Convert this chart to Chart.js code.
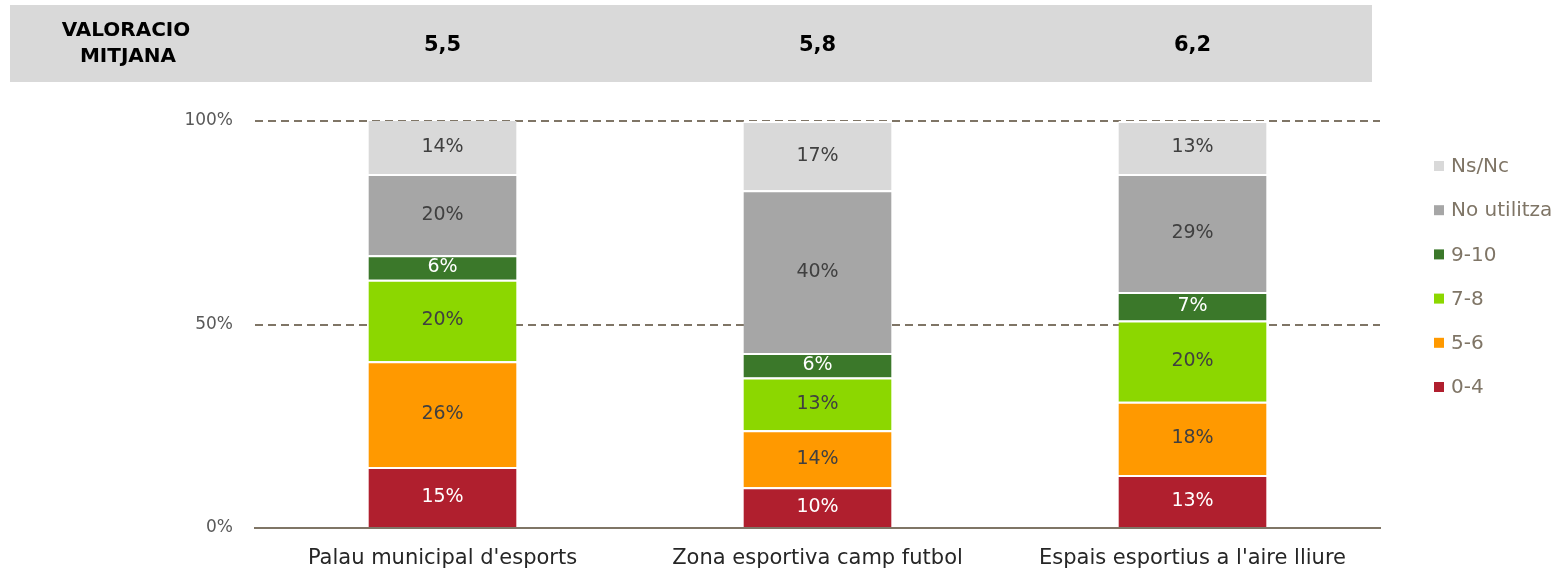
<!DOCTYPE html>
<html>
<head>
<meta charset="utf-8">
<script src="https://cdn.jsdelivr.net/npm/chart.js@4"></script>
<style>
  html, body { margin: 0; padding: 0; background: #fff; }
  #wrap { width: 1565px; height: 571px; position: relative; }
</style>
</head>
<body>
<div id="wrap"><canvas id="chart"></canvas></div>
<script>
const categories = ["Palau municipal d'esports", "Zona esportiva camp futbol", "Espais esportius a l'aire lliure"];
const averageScores = ["5,5", "5,8", "6,2"];

const score0to4 = [15, 10, 13];
const score5to6 = [26, 14, 18];
const score7to8 = [20, 13, 20];
const score9to10 = [6, 6, 7];
const noUse = [20, 40, 29];
const noAnswer = [14, 17, 13];

const yTicks = [0, 50, 100];

const FONT = "'DejaVu Sans', sans-serif";
const AXIS_COLOR = "#7f7566";

const series = [
  { label: "0-4", data: score0to4, color: "#b01f2e", text: "#ffffff" },
  { label: "5-6", data: score5to6, color: "#ff9900", text: "#404040" },
  { label: "7-8", data: score7to8, color: "#8cd700", text: "#404040" },
  { label: "9-10", data: score9to10, color: "#3b782a", text: "#ffffff" },
  { label: "No utilitza", data: noUse, color: "#a6a6a6", text: "#404040" },
  { label: "Ns/Nc", data: noAnswer, color: "#d9d9d9", text: "#404040" },
];

// grey band with the mean scores above each bar
const headerBand = {
  id: "headerBand",
  beforeDraw(chart) {
    const { ctx } = chart;
    const x = chart.scales.x;
    ctx.save();
    ctx.fillStyle = "#d9d9d9";
    ctx.fillRect(10, 5, 1362, 77);
    ctx.fillStyle = "#000";
    ctx.textAlign = "center";
    ctx.textBaseline = "middle";
    ctx.font = "bold 20px " + FONT;
    ctx.fillText("VALORACIO", 126, 31);
    ctx.fillText("MITJANA", 128, 57);
    ctx.font = "bold 21px " + FONT;
    averageScores.forEach((s, i) => {
      ctx.fillText(s, x.getPixelForValue(i), 46);
    });
    ctx.restore();
  },
};

// percentage inside each segment
const segmentLabels = {
  id: "segmentLabels",
  afterDatasetsDraw(chart) {
    const { ctx } = chart;
    ctx.save();
    ctx.font = "19px " + FONT;
    ctx.textAlign = "center";
    ctx.textBaseline = "middle";
    chart.data.datasets.forEach((ds, di) => {
      const meta = chart.getDatasetMeta(di);
      meta.data.forEach((bar, i) => {
        const { x, y, base } = bar.getProps(["x", "y", "base"], true);
        const top = Math.max(y, chart.chartArea.top);
        ctx.fillStyle = series[di].text;
        ctx.fillText(ds.data[i] + "%", x, (top + base) / 2);
      });
    });
    ctx.restore();
  },
};

// legend on the right, top item is the last series
const sideLegend = {
  id: "sideLegend",
  afterDraw(chart) {
    const { ctx } = chart;
    ctx.save();
    ctx.font = "20px " + FONT;
    ctx.textBaseline = "middle";
    const items = chart.data.datasets.slice().reverse();
    items.forEach((ds, i) => {
      const cy = 166 + i * 44.2;
      ctx.fillStyle = ds.backgroundColor;
      ctx.fillRect(1434, cy - 5, 10, 10);
      ctx.fillStyle = AXIS_COLOR;
      ctx.fillText(ds.label, 1451, cy + 1);
    });
    ctx.restore();
  },
};

new Chart(document.getElementById("chart"), {
  type: "bar",
  data: {
    labels: categories,
    datasets: series.map((s) => ({
      label: s.label,
      data: s.data,
      backgroundColor: s.color,
      borderColor: "#ffffff",
      borderWidth: { top: 2, bottom: 0, left: 0, right: 0 },
      borderSkipped: "start",
      barPercentage: 0.395,
      categoryPercentage: 1,
    })),
  },
  options: {
    responsive: true,
    maintainAspectRatio: false,
    animation: false,
    layout: { padding: { top: 121, right: 185, left: 0, bottom: 0 } },
    plugins: {
      legend: { display: false },
      tooltip: { enabled: false },
    },
    scales: {
      x: {
        stacked: true,
        grid: { display: false, drawTicks: false },
        border: { color: AXIS_COLOR, width: 2 },
        ticks: { color: "#262626", font: { family: FONT, size: 21 }, padding: 18 },
        afterFit(scale) { scale.height = 43; },
      },
      y: {
        stacked: true,
        min: 0,
        max: 100,
        afterBuildTicks(scale) {
          scale.ticks = yTicks.map((v) => ({ value: v }));
        },
        grid: {
          drawTicks: false,
          color: (c) => (c.tick && c.tick.value === 0 ? "transparent" : AXIS_COLOR),
          lineWidth: 2,
        },
        border: { display: false, dash: [8, 5] },
        ticks: {
          color: "#595959",
          font: { family: FONT, size: 17 },
          padding: 22,
          callback: (v) => v + "%",
        },
        afterFit(scale) { scale.width = 255; },
      },
    },
  },
  plugins: [headerBand, segmentLabels, sideLegend],
});
</script>
</body>
</html>
